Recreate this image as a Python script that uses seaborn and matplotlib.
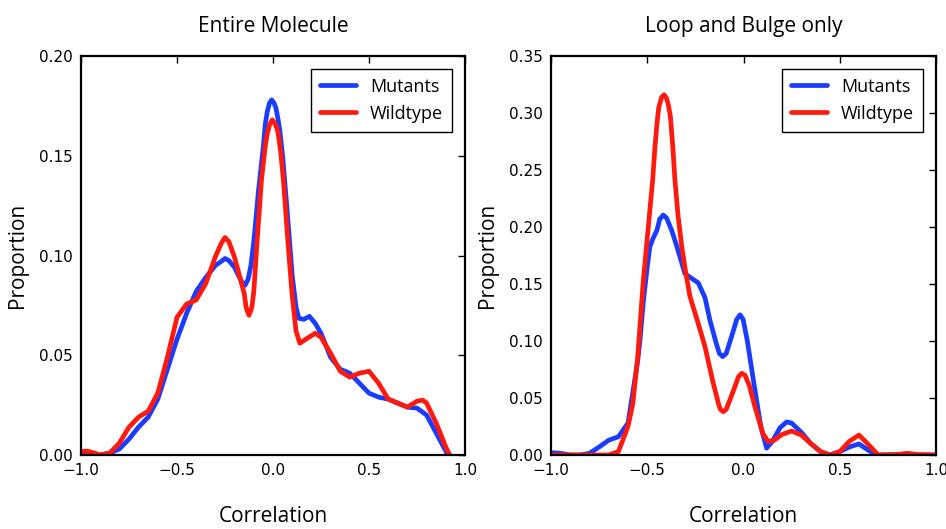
import numpy as np
import pandas as pd
import matplotlib
matplotlib.use("Agg")
import matplotlib.pyplot as plt
import seaborn as sns

# Values (correlation, proportion)
ent_mut_x = [-1.0, -0.95, -0.9, -0.85, -0.8, -0.75, -0.7, -0.65, -0.6, -0.55, -0.5, -0.45,
             -0.4, -0.35, -0.3, -0.27, -0.25, -0.23, -0.2, -0.175, -0.16, -0.146, -0.13, -0.115,
             -0.1, -0.075, -0.05, -0.04, -0.03, -0.018, -0.007, 0.005, 0.015, 0.025, 0.035, 0.05,
             0.075, 0.1, 0.12, 0.135, 0.16, 0.19, 0.22, 0.25, 0.3, 0.35, 0.4, 0.45, 0.5, 0.55,
             0.6, 0.65, 0.7, 0.75, 0.8, 0.85, 0.9, 0.91]
ent_mut_y = [0.001, 0.0005, 0.0, 0.001, 0.003, 0.008, 0.014, 0.019, 0.028, 0.043, 0.058, 0.071,
             0.082, 0.089, 0.095, 0.097, 0.0985, 0.0975, 0.094, 0.089, 0.0865, 0.085, 0.088, 0.095,
             0.107, 0.133, 0.155, 0.166, 0.172, 0.1765, 0.178, 0.1765, 0.174, 0.169, 0.163, 0.150,
             0.121, 0.090, 0.074, 0.0685, 0.068, 0.0695, 0.066, 0.061, 0.049, 0.043, 0.041, 0.036,
             0.031, 0.029, 0.028, 0.026, 0.024, 0.0235, 0.020, 0.011, 0.002, 0.0]

ent_wt_x = [-1.0, -0.97, -0.93, -0.9, -0.85, -0.8, -0.75, -0.7, -0.65, -0.6, -0.55, -0.5,
            -0.45, -0.4, -0.35, -0.3, -0.27, -0.25, -0.23, -0.2, -0.15, -0.14, -0.125, -0.11,
            -0.1, -0.085, -0.06, -0.04, -0.03, -0.018, -0.004, 0.01, 0.02, 0.027, 0.04, 0.054,
            0.08, 0.1, 0.12, 0.14, 0.17, 0.22, 0.25, 0.3, 0.35, 0.4, 0.45, 0.5, 0.55, 0.6, 0.65,
            0.7, 0.75, 0.78, 0.8, 0.85, 0.9, 0.92]
ent_wt_y = [0.0017, 0.002, 0.001, 0.0, 0.001, 0.006, 0.014, 0.019, 0.022, 0.031, 0.049, 0.069,
            0.0757, 0.0777, 0.086, 0.0994, 0.106, 0.109, 0.107, 0.099, 0.081, 0.074, 0.070, 0.074,
            0.082, 0.104, 0.138, 0.155, 0.161, 0.1655, 0.168, 0.166, 0.164, 0.161, 0.152, 0.138,
            0.104, 0.080, 0.062, 0.056, 0.058, 0.061, 0.059, 0.051, 0.042, 0.039, 0.041, 0.042,
            0.036, 0.028, 0.026, 0.024, 0.027, 0.0275, 0.026, 0.016, 0.004, 0.0]

loop_mut_x = [-1.0, -0.95, -0.9, -0.85, -0.8, -0.75, -0.7, -0.65, -0.6, -0.55, -0.538, -0.52,
              -0.5, -0.486, -0.47, -0.45, -0.435, -0.417, -0.4, -0.385, -0.373, -0.35, -0.304,
              -0.27, -0.235, -0.2, -0.174, -0.14, -0.125, -0.108, -0.09, -0.06, -0.035, -0.018,
              -0.002, 0.02, 0.051, 0.09, 0.12, 0.15, 0.19, 0.224, 0.25, 0.3, 0.35, 0.4, 0.45, 0.5,
              0.55, 0.6, 0.65, 0.7, 0.8, 1.0]
loop_mut_y = [0.002, 0.0015, 0.0, 0.0, 0.0015, 0.007, 0.013, 0.016, 0.028, 0.082, 0.100, 0.135,
              0.165, 0.183, 0.190, 0.197, 0.207, 0.2105, 0.208, 0.202, 0.197, 0.185, 0.159,
              0.155, 0.151, 0.138, 0.118, 0.097, 0.089, 0.0863, 0.089, 0.105, 0.119, 0.123,
              0.119, 0.100, 0.066, 0.025, 0.006, 0.012, 0.024, 0.029, 0.028, 0.020, 0.010, 0.003,
              0.0, 0.003, 0.007, 0.0097, 0.004, 0.0, 0.0, 0.0]

loop_wt_x = [-1.0, -0.9, -0.8, -0.7, -0.65, -0.6, -0.575, -0.55, -0.52, -0.5, -0.472, -0.46,
             -0.45, -0.44, -0.425, -0.412, -0.4, -0.39, -0.38, -0.368, -0.356, -0.34, -0.321,
             -0.3, -0.278, -0.24, -0.2, -0.16, -0.13, -0.12, -0.105, -0.09, -0.06, -0.025, -0.009,
             0.008, 0.03, 0.06, 0.1, 0.129, 0.16, 0.2, 0.25, 0.3, 0.35, 0.4, 0.45, 0.5, 0.55, 0.6,
             0.65, 0.7, 0.8, 0.85, 0.9, 1.0]
loop_wt_y = [0.0, 0.0, 0.0, 0.0, 0.003, 0.025, 0.045, 0.085, 0.154, 0.190, 0.241, 0.270,
             0.290, 0.305, 0.314, 0.316, 0.313, 0.307, 0.297, 0.272, 0.241, 0.210, 0.183,
             0.160, 0.139, 0.118, 0.095, 0.065, 0.045, 0.040, 0.038, 0.040, 0.053, 0.069, 0.0716,
             0.070, 0.061, 0.042, 0.019, 0.0117, 0.013, 0.018, 0.021, 0.0175, 0.010, 0.003, 0.0,
             0.003, 0.012, 0.0175, 0.009, 0.0, 0.0005, 0.0015, 0.0005, 0.0]

titles = ["Entire Molecule", "Loop and Bulge only"]
yticks = [np.arange(0, 0.201, 0.05), np.arange(0, 0.351, 0.05)]
ylims = [0.20, 0.35]
palette = {"Mutants": "#1a3cff", "Wildtype": "#ff1a0d"}


def long_df(mx, my, wx, wy):
    a = pd.DataFrame({"x": mx, "y": my, "group": "Mutants"})
    b = pd.DataFrame({"x": wx, "y": wy, "group": "Wildtype"})
    return pd.concat([a, b], ignore_index=True)


panels = [long_df(ent_mut_x, ent_mut_y, ent_wt_x, ent_wt_y),
          long_df(loop_mut_x, loop_mut_y, loop_wt_x, loop_wt_y)]

sns.set_style("white")
plt.rcParams["font.family"] = ["DejaVu Sans"]
plt.rcParams["text.color"] = "black"
plt.rcParams["axes.labelcolor"] = "black"

fig = plt.figure(figsize=(9.46, 5.29), dpi=100)
rects = [[81 / 946, 1 - 455 / 529, 384 / 946, 399 / 529],
         [551 / 946, 1 - 455 / 529, 385 / 946, 399 / 529]]

for i, df in enumerate(panels):
    ax = fig.add_axes(rects[i])
    sns.lineplot(data=df, x="x", y="y", hue="group", palette=palette,
                 estimator=None, linewidth=3.4, ax=ax)
    for ln in ax.lines:
        ln.set_solid_joinstyle("round")
        ln.set_solid_capstyle("round")
    ax.set_xlim(-1, 1)
    ax.set_ylim(0, ylims[i])
    ax.set_xticks([-1.0, -0.5, 0.0, 0.5, 1.0])
    ax.set_xticklabels(["\u22121.0", "\u22120.5", "0.0", "0.5", "1.0"])
    ax.set_yticks(yticks[i])
    ax.set_yticklabels([f"{v:.2f}" for v in yticks[i]])
    ax.tick_params(direction="in", length=5, width=1, top=True, right=True,
                   labelsize=11, pad=6, colors="black")
    for s in ax.spines.values():
        s.set_linewidth(1.6)
        s.set_color("black")
    ax.set_title(titles[i], family="Open Sans", fontsize=15, pad=17)
    ax.set_xlabel("Correlation", family="Open Sans", fontsize=15, labelpad=20)
    ax.set_ylabel("Proportion", family="Open Sans", fontsize=15, labelpad=8)
    leg = ax.legend(loc="upper right", prop={"family": "Open Sans", "size": 13},
                    fancybox=False, framealpha=1, edgecolor="black",
                    handlelength=2.0, borderaxespad=0.7, borderpad=0.5)
    leg.get_frame().set_linewidth(1.0)
    for line in leg.get_lines():
        line.set_linewidth(3.4)

fig.savefig("out.png", dpi=100)
